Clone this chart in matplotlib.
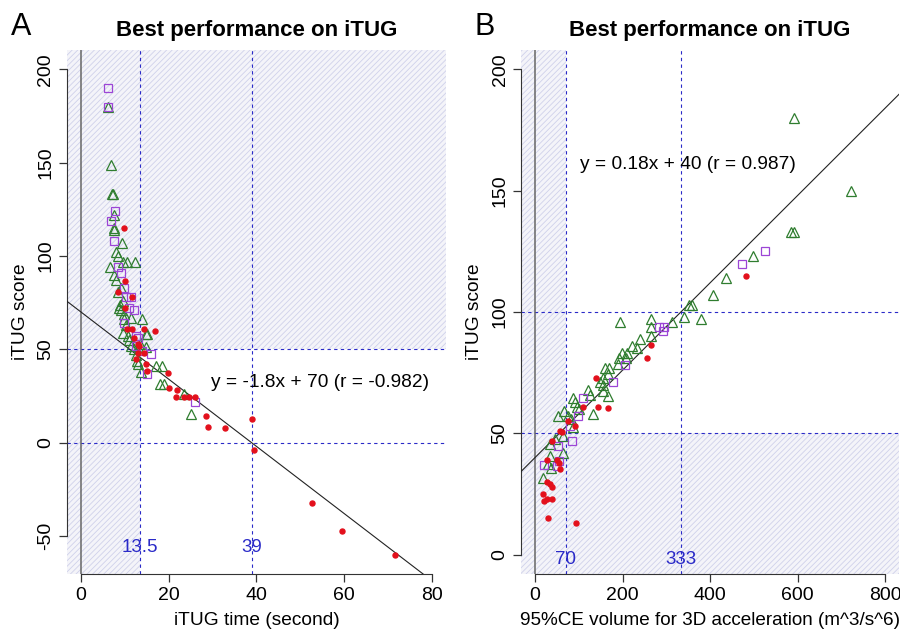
import matplotlib
matplotlib.use("Agg")
import matplotlib.pyplot as plt
from matplotlib.patches import Rectangle

plt.rcParams["font.family"] = ["Liberation Sans", "DejaVu Sans"]
plt.rcParams["hatch.linewidth"] = 0.6
plt.rcParams["axes.unicode_minus"] = False

# ---- panel A: iTUG time (s) vs iTUG score ----
a_red_x = [9.8, 10.0, 8.4, 11.6, 10.0, 10.5, 11.6, 14.3, 16.8, 13.0, 13.2, 13.0, 14.3,
           14.8, 15.0, 19.8, 20.0, 22.0, 21.6, 23.4, 24.6, 26.0, 28.6, 29.0, 32.8,
           38.9, 39.4, 52.7, 59.5, 71.6, 12.0, 12.5]
a_red_y = [115, 86.5, 81, 78, 72, 61, 61, 61, 60, 53, 52, 48, 48,
           42, 38.5, 37.4, 29.4, 28, 24.6, 24.6, 24.6, 24.6, 14.4, 8.5, 8,
           12.8, -3.7, -32.6, -47.5, -60.4, 56, 45]
a_tri_x = [6.1, 6.8, 7.0, 7.3, 7.5, 7.5, 7.5, 9.3, 8.0, 8.4, 10.6, 12.3, 9.5, 6.6,
           7.5, 8.0, 9.1, 8.4, 9.5, 8.6, 9.1, 9.8, 11.4, 13.9, 9.5, 10.7, 14.8, 11.4,
           14.8, 12.5, 15.0, 17.0, 18.4, 18.0, 19.0, 23.4, 25.0, 13.0, 13.6, 10.2,
           11.0, 12.0, 8.8, 9.9, 12.8, 13.5]
a_tri_y = [180, 149, 133, 133, 122, 115, 114, 107, 102, 100, 97, 97, 97, 94,
           90, 87, 83, 81, 76, 72, 71, 69, 67, 66, 59, 57, 58, 52,
           51, 47, 58, 41, 41, 31.5, 31.5, 26, 15.5, 42, 38, 63,
           55, 50, 74, 66, 44, 53]
a_sq_x = [6.1, 6.1, 7.7, 6.8, 7.5, 8.4, 9.1, 9.8, 10.2, 11.4, 11.0, 12.0, 9.8, 12.5,
          13.0, 16.0, 15.0, 26.0, 12.5, 14.0]
a_sq_y = [190, 180, 124, 119, 108, 94, 91, 83, 78, 78, 72, 71, 64, 57,
          56, 47.5, 37, 22, 52, 49]

# ---- panel B: 95%CE volume vs iTUG score ----
b_red_x = [482, 264, 257, 139, 143, 166, 109, 91, 57, 39, 27, 50, 55, 57, 27, 34, 39,
           18, 20, 27, 39, 30, 93, 61, 75]
b_red_y = [115, 86.5, 81, 73, 61, 60.5, 61, 53, 51, 47, 39, 39, 37.8, 35.4, 30, 29, 28,
           25, 22, 23, 23, 15, 13, 50.6, 55]
b_tri_x = [591, 723, 584, 593, 498, 436, 407, 359, 352, 379, 341, 195, 264, 265, 314,
           239, 266, 222, 234, 198, 211, 193, 209, 189, 159, 170, 166, 155, 148, 155,
           155, 166, 125, 87, 95, 132, 52, 66, 75, 82, 86, 64, 45, 34, 64, 34, 30,
           36, 18, 91, 120, 100]
b_tri_y = [180, 150, 133, 133, 123, 114, 107, 103, 103, 97, 98, 96, 97, 94, 96,
           89, 90, 86, 85, 83, 83, 81, 81, 78.6, 77, 77, 74.5, 73, 71, 70,
           67.5, 65.5, 66, 64.6, 61, 58, 57, 59, 57, 56, 52.6, 49, 47.7, 45.7, 42, 40.7, 37.4,
           35.8, 31.7, 63, 68, 60]
b_sq_x = [525, 473, 294, 284, 293, 205, 178, 109, 98, 80, 84, 52, 55, 20, 50]
b_sq_y = [125, 120, 94, 94, 92, 78, 71, 64.6, 57, 53, 47, 44.6, 38.7, 37, 36.6]

blue = "#2a2ac8"
hatch_edge = "#cfd1ea"
hatch_face = "#f4f4f9"


def hatch(ax, x0, x1, y0, y1):
    ax.add_patch(Rectangle((x0, y0), x1 - x0, y1 - y0, facecolor=hatch_face,
                           edgecolor=hatch_edge, hatch="//////", linewidth=0, zorder=0))


def draw_points(ax, rx, ry, tx, ty, sx, sy):
    ax.plot(tx, ty, "^", mfc="none", mec="#2f7d2f", ms=7, mew=0.9, ls="none", zorder=4)
    ax.plot(sx, sy, "s", mfc="none", mec="#9c45d6", ms=5.5, mew=0.9, ls="none", zorder=4)
    ax.plot(rx, ry, "o", mfc="#e3101c", mec="#e3101c", ms=3.6, ls="none", zorder=5)


def style(ax, xb, yb, xt, yt):
    for s in ["top", "right"]:
        ax.spines[s].set_visible(False)
    ax.spines["left"].set_bounds(*yb)
    ax.spines["bottom"].set_bounds(*xb)
    ax.spines["left"].set_color("#333333")
    ax.spines["bottom"].set_color("#333333")
    ax.set_xticks(xt)
    ax.set_yticks(yt)
    ax.tick_params(length=6, width=0.9, color="#333333", labelsize=14, pad=3)
    for lab in ax.get_yticklabels():
        lab.set_rotation(90)
        lab.set_va("center")


fig = plt.figure(figsize=(9, 6.31), dpi=100)
axA = fig.add_axes([0.0744, 0.0903, 0.4211, 0.8304])
axB = fig.add_axes([0.5789, 0.0903, 0.4200, 0.8304])

# panel A
xlA, ylA = (-3.2, 83.2), (-70.4, 210.4)
axA.set_xlim(xlA)
axA.set_ylim(ylA)
hatch(axA, xlA[0], 13.5, ylA[0], ylA[1])
hatch(axA, 13.5, xlA[1], 50, ylA[1])
for v in [13.5, 39]:
    axA.axvline(v, color=blue, ls=(0, (3, 3)), lw=0.8, zorder=1)
for h in [0, 50]:
    axA.axhline(h, color=blue, ls=(0, (3, 3)), lw=0.8, zorder=1)
axA.axvline(0, color="#666666", lw=1.1, zorder=1)
axA.axline((0, 70), slope=-1.8, color="#222222", lw=0.8, zorder=3)
draw_points(axA, a_red_x, a_red_y, a_tri_x, a_tri_y, a_sq_x, a_sq_y)
axA.text(13.5, -56, "13.5", color=blue, fontsize=13.5, ha="center", va="center", zorder=6)
axA.text(39, -56, "39", color=blue, fontsize=13.5, ha="center", va="center", zorder=6)
axA.text(54.5, 32, "y = -1.8x + 70 (r = -0.982)", fontsize=13.8, ha="center", va="center", zorder=6)
style(axA, (0, 80), (-50, 200), [0, 20, 40, 60, 80], [-50, 0, 50, 100, 150, 200])
axA.set_xlabel("iTUG time (second)", fontsize=13.8, labelpad=6)
axA.set_ylabel("iTUG score", fontsize=13.8, labelpad=6)
axA.set_title("Best performance on iTUG", fontsize=16, fontweight="bold", pad=10)

# panel B
xlB, ylB = (-32, 832), (-8, 208)
axB.set_xlim(xlB)
axB.set_ylim(ylB)
hatch(axB, xlB[0], 70, ylB[0], ylB[1])
hatch(axB, 70, xlB[1], ylB[0], 50)
for v in [70, 333]:
    axB.axvline(v, color=blue, ls=(0, (3, 3)), lw=0.8, zorder=1)
for h in [50, 100]:
    axB.axhline(h, color=blue, ls=(0, (3, 3)), lw=0.8, zorder=1)
axB.axvline(0, color="#666666", lw=1.1, zorder=1)
axB.axline((0, 40), slope=0.18, color="#222222", lw=0.8, zorder=3)
draw_points(axB, b_red_x, b_red_y, b_tri_x, b_tri_y, b_sq_x, b_sq_y)
axB.text(70, -2, "70", color=blue, fontsize=13.5, ha="center", va="center", zorder=6)
axB.text(333, -2, "333", color=blue, fontsize=13.5, ha="center", va="center", zorder=6)
axB.text(350, 161, "y = 0.18x + 40 (r = 0.987)", fontsize=13.8, ha="center", va="center", zorder=6)
style(axB, (0, 800), (0, 200), [0, 200, 400, 600, 800], [0, 50, 100, 150, 200])
axB.set_xlabel("95%CE volume for 3D acceleration (m^3/s^6)", fontsize=13.6, labelpad=6)
axB.set_ylabel("iTUG score", fontsize=13.8, labelpad=6)
axB.set_title("Best performance on iTUG", fontsize=16, fontweight="bold", pad=10)

fig.text(0.024, 0.958, "A", fontsize=22, ha="center", va="center")
fig.text(0.539, 0.958, "B", fontsize=22, ha="center", va="center")

fig.savefig("out.png", dpi=100)
